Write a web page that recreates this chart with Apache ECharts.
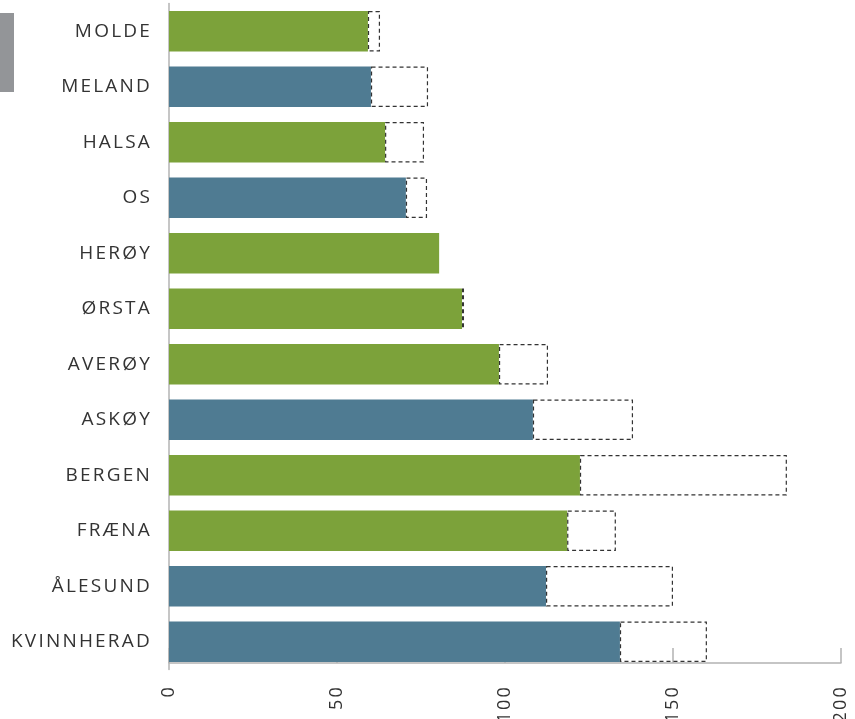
<!DOCTYPE html>
<html>
<head>
<meta charset="utf-8">
<script src="https://cdn.jsdelivr.net/npm/echarts@6/dist/echarts.min.js"></script>
<style>
  html, body { margin: 0; padding: 0; background: #fff; }
  #chart { width: 855px; height: 719px; }
</style>
</head>
<body>
<div id="chart"></div>
<script>
// kommuner, top to bottom
const kommuner = ['MOLDE', 'MELAND', 'HALSA', 'OS', 'HERØY', 'ØRSTA', 'AVERØY', 'ASKØY', 'BERGEN', 'FRÆNA', 'ÅLESUND', 'KVINNHERAD'];
// solid bar value
const verdi = [59.2, 60.1, 64.3, 70.5, 80.4, 87.2, 98.2, 108.3, 122.3, 118.5, 112.2, 134.2];
// end of the dashed box
const maal = [62.8, 77.1, 75.9, 76.8, 80.4, 87.8, 112.8, 138.1, 183.9, 133, 150, 160.1];
// 'g' = green, 'b' = blue
const farge = ['g', 'b', 'g', 'b', 'g', 'g', 'g', 'b', 'g', 'g', 'b', 'b'];
const xTicks = [0, 50, 100, 150, 200];

const GREEN = '#7ca23a';
const BLUE = '#4f7b92';

// the category labels are letter-spaced in the original
const origFillText = CanvasRenderingContext2D.prototype.fillText;
CanvasRenderingContext2D.prototype.fillText = function (txt, x, y, w) {
    if (kommuner.indexOf(txt) >= 0 && 'letterSpacing' in this) {
        const old = this.letterSpacing;
        this.letterSpacing = '2.2px';
        const r = w === undefined ? origFillText.call(this, txt, x, y) : origFillText.call(this, txt, x, y, w);
        this.letterSpacing = old;
        return r;
    }
    return w === undefined ? origFillText.call(this, txt, x, y) : origFillText.call(this, txt, x, y, w);
};

const chart = echarts.init(document.getElementById('chart'), null, { renderer: 'canvas' });

const solidData = verdi.map((v, i) => ({
    value: v,
    itemStyle: { color: farge[i] === 'g' ? GREEN : BLUE }
}));
const restData = maal.map((m, i) => {
    const d = Math.round((m - verdi[i]) * 10) / 10;
    return d > 0 ? d : '-';
});

const option = {
    animation: false,
    grid: { left: 169, right: 14, top: 3.5, bottom: 49.5, containLabel: false },
    graphic: [{
        type: 'rect',
        shape: { x: 0, y: 13, width: 14, height: 79 },
        style: { fill: '#939598' }
    }],
    xAxis: {
        type: 'value',
        min: xTicks[0],
        max: xTicks[xTicks.length - 1],
        interval: 50,
        offset: -6.5,
        axisLine: { show: true, lineStyle: { color: '#b3b3b3', width: 1.5 } },
        axisTick: { show: true, inside: true, length: 15, lineStyle: { color: '#b3b3b3', width: 1.5 } },
        splitLine: { show: false },
        axisLabel: {
            rotate: 90,
            margin: 22,
            color: '#333',
            fontSize: 18,
            fontFamily: 'Open Sans'
        }
    },
    yAxis: {
        type: 'category',
        inverse: true,
        data: kommuner,
        axisLine: { show: true, lineStyle: { color: '#b3b3b3', width: 1.5 } },
        axisTick: { show: false },
        axisLabel: {
            margin: 17,
            color: '#333',
            fontSize: 19,
            fontFamily: 'Open Sans'
        }
    },
    series: [
        {
            type: 'bar',
            stack: 'tot',
            data: solidData,
            barCategoryGap: '27%'
        },
        {
            type: 'bar',
            stack: 'tot',
            data: restData,
            itemStyle: {
                color: 'rgba(0,0,0,0)',
                borderColor: '#333',
                borderWidth: 1.2,
                borderType: [4, 3]
            }
        }
    ]
};

chart.setOption(option);
</script>
</body>
</html>
